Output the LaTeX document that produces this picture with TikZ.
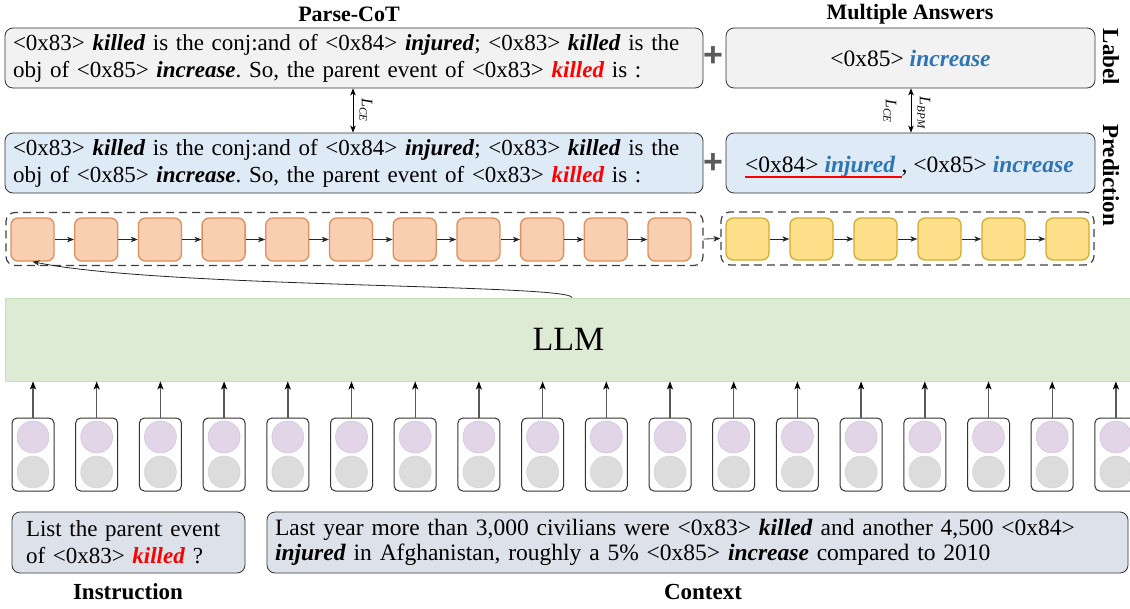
\documentclass[tikz,border=0pt]{standalone}
\usepackage{fontspec}
\setmainfont{Liberation Serif}
\newfontfamily\plusfont{Liberation Sans}
\usetikzlibrary{arrows.meta}
\frenchspacing
\definecolor{labfill}{HTML}{F2F2F2}
\definecolor{predfill}{HTML}{DEEBF7}
\definecolor{orfill}{HTML}{F8CFB0}
\definecolor{ordraw}{HTML}{DE8F5C}
\definecolor{yefill}{HTML}{FFE08A}
\definecolor{yedraw}{HTML}{D4AA2E}
\definecolor{llmfill}{HTML}{DDEBD5}
\definecolor{llmdraw}{HTML}{C8E0B8}
\definecolor{purfill}{HTML}{E1D5E7}
\definecolor{purdraw}{HTML}{CDB9DD}
\definecolor{grfill}{HTML}{DCDCDC}
\definecolor{grdraw}{HTML}{D0D0D0}
\definecolor{inpfill}{HTML}{DDE2EA}
\definecolor{ansblue}{HTML}{2E75B6}
\definecolor{plusgray}{HTML}{595959}
\newcommand{\bi}[1]{\textbf{\textit{#1}}}
\newcommand{\rk}[1]{\textcolor{red}{\bi{#1}}}
\newcommand{\bk}[1]{\textcolor{ansblue}{\bi{#1}}}
\newcommand{\lossL}[1]{\textit{L}\raisebox{-0.3ex}{\fontsize{11}{11}\selectfont\textit{#1}}}
\tikzset{
  box/.style={draw=black!80, rounded corners=8pt, line width=0.8pt, inner sep=0pt},
  labbox/.style={box, fill=labfill},
  predbox/.style={box, fill=predfill},
  inpbox/.style={box, fill=inpfill},
  maintext/.style={font=\fontsize{23}{27}\selectfont},
  anstext/.style={font=\fontsize{23.5}{27}\selectfont},
  ctxtext/.style={font=\fontsize{23.5}{25}\selectfont},
  title/.style={font=\fontsize{22}{22}\selectfont\bfseries},
  btitle/.style={font=\fontsize{23}{23}\selectfont\bfseries},
  sidelabel/.style={font=\fontsize{23}{23}\selectfont\bfseries, rotate=-90},
  losslabel/.style={font=\fontsize{16}{16}\selectfont, rotate=-90, inner sep=1pt},
  plus/.style={font=\fontsize{34}{34}\selectfont\plusfont\bfseries, text=plusgray, inner sep=0pt},
  container/.style={draw=black!75, dash pattern=on 8pt off 5pt, rounded corners=9pt, line width=1.2pt},
  orbox/.style={draw=ordraw, fill=orfill, rounded corners=7pt, line width=1.3pt, minimum width=43pt, minimum height=43pt, inner sep=0pt},
  yebox/.style={draw=yedraw, fill=yefill, rounded corners=7pt, line width=1.3pt, minimum width=43pt, minimum height=42pt, inner sep=0pt},
  chain/.style={draw=black!85, line width=0.8pt, -{Stealth[length=7pt,width=5.5pt,inset=2pt]}},
  uparrow/.style={draw=black!65, line width=1.4pt, -{Stealth[length=8pt,width=6pt,inset=2pt,color=black]}},
  dbl/.style={draw=black, line width=0.9pt, {Stealth[length=7pt,width=5.5pt,inset=2pt]}-{Stealth[length=7pt,width=5.5pt,inset=2pt]}},
  card/.style={draw=black!80, rounded corners=5pt, line width=1pt, minimum width=42pt, minimum height=73pt, inner sep=0pt},
  purc/.style={circle, draw=purdraw, fill=purfill, minimum size=32pt, inner sep=0pt},
  grc/.style={circle, draw=grdraw, fill=grfill, minimum size=32pt, inner sep=0pt},
}
\begin{document}
\begin{tikzpicture}[x=1pt,y=-1pt]
\useasboundingbox (0,0) rectangle (1130,608);

% titles
\node[title] (t1) at (349,14) {Parse-CoT};
\node[title] (t2) at (910,14) {Multiple Answers};

% label row
\node[labbox, maintext, minimum width=698pt, minimum height=60pt, text width=682pt, align=left] (cotlab) at (354,58)
 {<0x83> \bi{killed} is the conj:and of <0x84> \bi{injured}; <0x83> \bi{killed} is the\\obj of <0x85> \bi{increase}. So, the parent event of <0x83> \rk{killed} is :};
\node[labbox, anstext, minimum width=369pt, minimum height=60pt] (anslab) at (910.5,58) {<0x85> \bk{increase}};
\node[plus] (p1) at (713,57) {+};
\node[sidelabel] (sl1) at (1111,57) {Label};

% prediction row
\node[predbox, maintext, minimum width=698pt, minimum height=60pt, text width=682pt, align=left] (cotpred) at (354,163)
 {<0x83> \bi{killed} is the conj:and of <0x84> \bi{injured}; <0x83> \bi{killed} is the\\obj of <0x85> \bi{increase}. So, the parent event of <0x83> \rk{killed} is :};
\node[predbox, minimum width=369pt, minimum height=60pt] (anspred) at (910.5,163) {};
\node[anstext, anchor=base west, inner sep=0pt] (pa) at (745,172) {<0x84> \bk{injured}};
\node[anstext, anchor=base west, inner sep=0pt] (pb) at (pa.base east) {\ , <0x85> \bk{increase}};
\draw[red, line width=1.3pt] ([yshift=-5pt]pa.base west) -- ([xshift=6pt,yshift=-5pt]pa.base east);
\node[plus] (p2) at (713,164) {+};
\node[sidelabel] (sl2) at (1111,175) {Prediction};

% loss arrows
\coordinate (ax1) at (353,0);
\coordinate (ax2) at (911,0);
\draw[dbl] (cotlab.south -| ax1) -- (cotpred.north -| ax1);
\draw[dbl] (anslab.south -| ax2) -- (anspred.north -| ax2);
\node[losslabel] (l1) at (366,110) {\lossL{CE}};
\node[losslabel] (l2) at (890,111) {\lossL{CE}};
\node[losslabel] (l3) at (924,113) {\lossL{BPM}};

% token chains
\node[container, minimum width=697pt, minimum height=53pt] (ocont) at (354.5,239) {};
\node[container, minimum width=373pt, minimum height=53pt] (ycont) at (907.5,238.5) {};
\foreach \i in {1,...,11} {
  \node[orbox] (o\i) at ({32.5+(\i-1)*63.7},239.5) {};
}
\foreach \i [count=\j from 2] in {1,...,10} {
  \draw[chain] (o\i.east) -- (o\j.west);
}
\foreach \i in {1,...,6} {
  \node[yebox] (y\i) at ({747.5+(\i-1)*64},239) {};
}
\foreach \i [count=\j from 2] in {1,...,5} {
  \draw[chain] (y\i.east) -- (y\j.west);
}
\draw[chain] (ocont.east) -- (ycont.west);

% LLM
\node[draw=llmdraw, fill=llmfill, line width=0.8pt, minimum width=1127pt, minimum height=83pt, font=\fontsize{34}{34}\selectfont] (llm) at (568.5,339.5) {LLM};
\coordinate (cs) at ([xshift=3.5pt]llm.north);
\draw[chain, draw=black!85] (cs) .. controls (572,284) and (160,288) .. (o1.south);

% input cards
\foreach \i in {1,...,18} {
  \node[card] (c\i) at ({33+(\i-1)*63.7},454.5) {};
  \node[purc] (cp\i) at ({33+(\i-1)*63.7},437) {};
  \node[grc] (cg\i) at ({33+(\i-1)*63.7},472) {};
  \draw[uparrow] (c\i.north) -- (c\i.north |- llm.south);
}

% inputs
\node[inpbox, maintext, minimum width=233pt, minimum height=61pt, text width=205pt, align=left] (instr) at (128.5,542.5)
 {List the parent event\\of <0x83> \rk{killed} ?};
\node[inpbox, ctxtext, minimum width=861pt, minimum height=61pt, text width=845pt, align=left] (ctx) at (697.5,542.5)
 {Last year more than 3,000 civilians were <0x83> \bi{killed} and another 4,500 <0x84>\\\bi{injured} in Afghanistan, roughly a 5\% <0x85> \bi{increase} compared to 2010};
\node[btitle] (t3) at (128,592) {Instruction};
\node[btitle] (t4) at (703,592) {Context};
\end{tikzpicture}
\end{document}
